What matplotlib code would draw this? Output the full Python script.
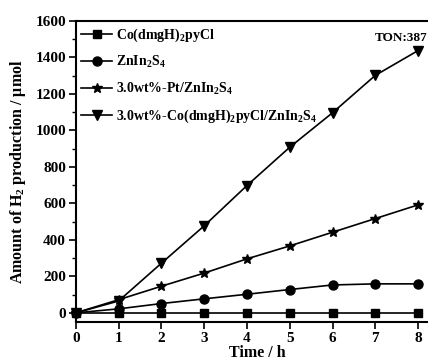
import numpy as np
import matplotlib
matplotlib.use("Agg")
import matplotlib.pyplot as plt
from matplotlib.ticker import MultipleLocator

plt.rcParams['font.family'] = ['Liberation Serif', 'DejaVu Serif']
plt.rcParams['font.weight'] = 'bold'
plt.rcParams['mathtext.fontset'] = 'custom'
plt.rcParams['mathtext.rm'] = 'Liberation Serif:bold'
plt.rcParams['mathtext.bf'] = 'Liberation Serif:bold'
plt.rcParams['mathtext.it'] = 'Liberation Serif:bold'

# tempo (h)
time_h = [0, 1, 2, 3, 4, 5, 6, 7, 8]

# H2 produzido (umol) para cada amostra
co_cat = [0, 0, 0, 0, 0, 0, 0, 0, 0]
znins = [0, 22, 51, 77, 102, 128, 153, 159, 159]
pt_znins = [0, 72, 146, 218, 296, 367, 442, 517, 592]
co_znins = [0, 65, 272, 477, 698, 908, 1097, 1302, 1438]

labels = [
    r'Co(dmgH)$_2$pyCl',
    r'ZnIn$_2$S$_4$',
    r'3.0wt%-Pt/ZnIn$_2$S$_4$',
    r'3.0wt%-Co(dmgH)$_2$pyCl/ZnIn$_2$S$_4$',
]
series = [co_cat, znins, pt_znins, co_znins]
markers = ['s', 'o', '*', 'v']
msizes = [5.5, 6.5, 7.5, 6.5]

fig = plt.figure(figsize=(4.28, 3.64), dpi=100)
ax = fig.add_axes([0.177, 0.1154, 0.85, 0.8270])

for y, lab, m, ms in zip(series, labels, markers, msizes):
    ax.plot(time_h, y, color='black', lw=1.2, marker=m, ms=ms, label=lab, clip_on=False)

ax.set_xlim(0, 8.5)
ax.set_ylim(-50, 1600)
ax.xaxis.set_major_locator(MultipleLocator(1))
ax.yaxis.set_major_locator(MultipleLocator(200))
ax.yaxis.set_minor_locator(MultipleLocator(100))
ax.tick_params(axis='both', which='major', direction='out', length=5, width=1.2, labelsize=11, pad=2)
ax.tick_params(axis='y', which='minor', direction='out', length=3, width=1.0)
for s in ax.spines.values():
    s.set_linewidth(1.5)

ax.set_xlabel('Time / h', fontsize=11.5, fontweight='bold', labelpad=0)
ax.set_ylabel(r'Amount of H$_2$ production / μmol', fontsize=11.5, fontweight='bold', labelpad=5)

ax.text(6.98, 1507, 'TON:387', fontsize=9.5, fontweight='bold', va='center', ha='left')

ax.legend(loc='upper left', frameon=False, fontsize=10, numpoints=1,
          handlelength=2.2, handletextpad=0.3, labelspacing=0.75,
          borderaxespad=0.2, borderpad=0.2)

fig.savefig('out.png', dpi=100)
